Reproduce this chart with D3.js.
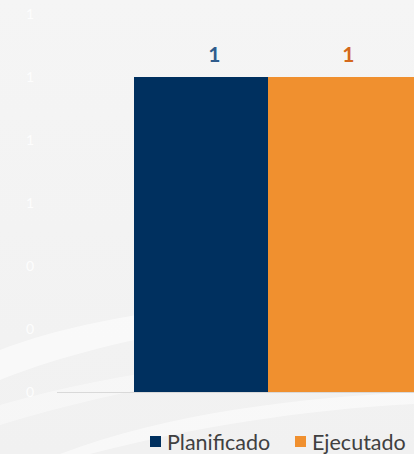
<!DOCTYPE html>
<html>
  <head>
    <meta charset="utf-8">
    <title>Planificado vs Ejecutado</title>
    <script src="https://cdn.jsdelivr.net/npm/d3@7"></script>
    <style>
      body { margin: 0; background: #f3f3f3; }
    </style>
  </head>
  <body>
    <svg id="container" width="414" height="454"></svg>
  </body>
  <script>
    // data
    const categories = [""];
    const seriesNames = ["Planificado", "Ejecutado"];
    const planificado = [1];
    const ejecutado = [1];
    const yTicks = [0, 0.2, 0.4, 0.6, 0.8, 1.0, 1.2];

    const colors = { Planificado: "#00305f", Ejecutado: "#f0902f" };
    const labelColors = { Planificado: "#2f5c8c", Ejecutado: "#d4691c" };

    const svg = d3.select("#container");

    // background with soft white swooshes
    const defs = svg.append("defs");
    const bg = defs.append("linearGradient").attr("id", "bg")
      .attr("x1", 0).attr("y1", 0).attr("x2", 0).attr("y2", 1);
    bg.append("stop").attr("offset", "0%").attr("stop-color", "#f5f5f5");
    bg.append("stop").attr("offset", "100%").attr("stop-color", "#f1f1f1");
    svg.append("rect").attr("width", 414).attr("height", 454).attr("fill", "url(#bg)");

    const swoosh = svg.append("g").attr("fill", "#ffffff");
    swoosh.append("path")
      .attr("d", "M0,350 C90,315 220,300 414,285 L414,300 C230,318 100,340 0,380 Z")
      .attr("opacity", 0.55);
    swoosh.append("path")
      .attr("d", "M0,405 C120,370 260,355 414,345 L414,355 C260,366 130,385 0,425 Z")
      .attr("opacity", 0.4);
    swoosh.append("path")
      .attr("d", "M60,454 C170,412 300,398 414,392 L414,404 C300,410 190,428 90,454 Z")
      .attr("opacity", 0.5);

    const plot = { left: 57, right: 479, top: 14, bottom: 392 };

    const y = d3.scaleLinear().domain([0, 1.2]).range([plot.bottom, plot.top]);

    const x0 = d3.scaleBand().domain(categories)
      .range([plot.left, plot.right]).padding(0.2232);
    const x1 = d3.scaleBand().domain(seriesNames)
      .range([0, x0.bandwidth()]).padding(0);
    // bars overlap a little (later series drawn on top)
    const barWidth = x1.bandwidth() * 1.2;

    // y axis labels (white, barely visible)
    const yAxis = d3.axisLeft(y).tickValues(yTicks).tickFormat(d3.format(".0f")).tickSize(0).tickPadding(0);
    const yG = svg.append("g").attr("transform", "translate(30,0)").call(yAxis);
    yG.select(".domain").remove();
    yG.selectAll("text")
      .attr("fill", "#fdfdfd")
      .attr("text-anchor", "middle")
      .attr("font-family", "Lato, sans-serif")
      .attr("font-size", 14);

    // baseline
    svg.append("line")
      .attr("x1", plot.left).attr("x2", plot.right)
      .attr("y1", y(0) + 0.5).attr("y2", y(0) + 0.5)
      .attr("stroke", "#d9d9d9").attr("stroke-width", 1);

    const rows = categories.map((c, i) => ({
      category: c,
      values: [
        { key: "Planificado", value: planificado[i] },
        { key: "Ejecutado", value: ejecutado[i] }
      ]
    }));

    const groups = svg.selectAll(".group")
      .data(rows)
      .join("g")
      .attr("class", "group")
      .attr("transform", d => `translate(${x0(d.category)},0)`);

    groups.selectAll("rect")
      .data(d => d.values)
      .join("rect")
      .attr("x", d => x1(d.key))
      .attr("y", d => y(d.value))
      .attr("width", barWidth)
      .attr("height", d => y(0) - y(d.value))
      .attr("fill", d => colors[d.key]);

    groups.selectAll(".val")
      .data(d => d.values)
      .join("text")
      .attr("class", "val")
      .attr("x", d => x1(d.key) + barWidth / 2)
      .attr("y", d => y(d.value) - 15)
      .attr("text-anchor", "middle")
      .attr("font-family", "Lato, sans-serif")
      .attr("font-weight", "bold")
      .attr("font-size", 21)
      .attr("fill", d => labelColors[d.key])
      .text(d => d3.format(".0f")(d.value));

    // legend
    const legend = svg.append("g").attr("transform", "translate(150,442)");
    const legendX = [0, 145];
    seriesNames.forEach((name, i) => {
      const g = legend.append("g").attr("transform", `translate(${legendX[i]},0)`);
      g.append("rect").attr("x", 0).attr("y", -6).attr("width", 11).attr("height", 11)
        .attr("fill", colors[name]);
      g.append("text").attr("x", 17).attr("y", 0).attr("dy", "0.35em")
        .attr("font-family", "Lato, sans-serif")
        .attr("font-size", 21.5)
        .attr("fill", "#404040")
        .text(name);
    });
  </script>
</html>
